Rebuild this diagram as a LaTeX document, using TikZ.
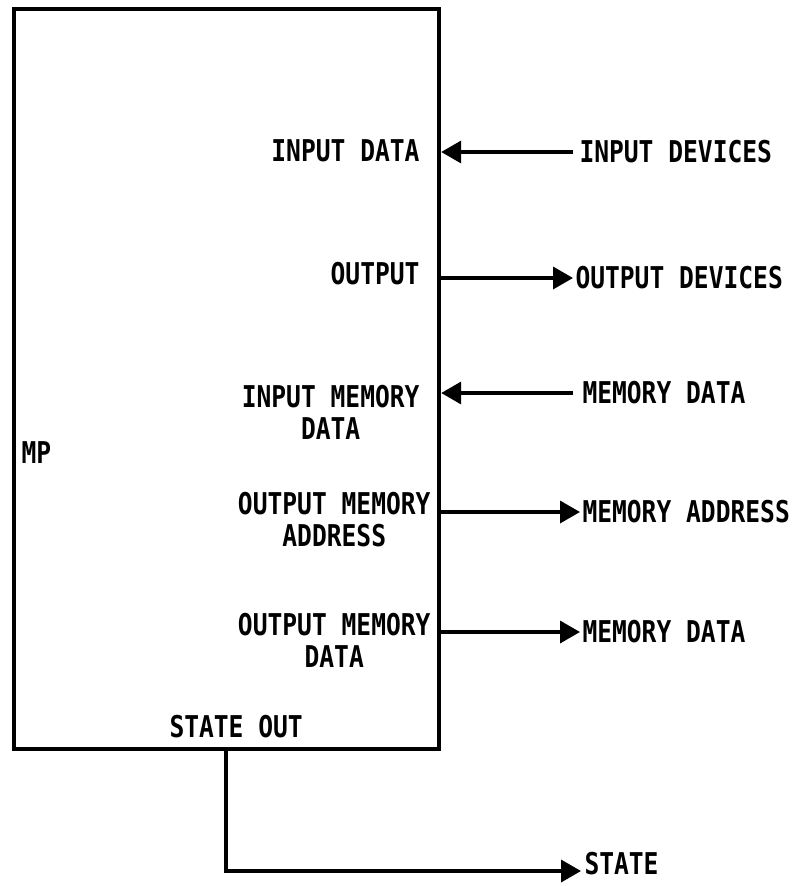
\documentclass[tikz,border=0pt]{standalone}
\usepackage{fontspec}
\setmainfont{DejaVu Sans Mono}[FakeStretch=0.82]
\usetikzlibrary{positioning, arrows.meta}

\begin{document}
\begin{tikzpicture}[x=1pt, y=-1pt, line width=3pt,
    lbl/.style={font=\fontsize{30}{32}\selectfont\bfseries, inner sep=0pt, align=center},
    sig/.style={-{Triangle[length=20pt, width=22pt]}, line width=3.6pt}]
  \useasboundingbox (0,0) rectangle (793,886);
  % the MP block
  \node[draw, line width=4.2pt, inner sep=0pt, minimum width=425pt,
    minimum height=740pt, anchor=north west] (mp) at (12,7) {};
  \node[lbl, anchor=west] (mpname) at (20,453) {MP};

  % port names inside the block
  \node[lbl, anchor=east] (indata) at (421,151) {INPUT DATA};
  \node[lbl, anchor=east] (outp) at (421,274) {OUTPUT};
  \node[lbl, anchor=north east] (inmem) at (421,384) {INPUT MEMORY\\DATA};
  \node[lbl, anchor=north east] (outaddr) at (432,491) {OUTPUT MEMORY\\ADDRESS};
  \node[lbl, anchor=north east] (outmem) at (432,612) {OUTPUT MEMORY\\DATA};
  \node[lbl, anchor=south west] (stout) at (168,739) {STATE OUT};

  % outside
  \node[lbl, anchor=west] (indev) at (578,152) {INPUT DEVICES};
  \node[lbl, anchor=west] (outdev) at (574,278) {OUTPUT DEVICES};
  \node[lbl, anchor=west] (memdata) at (581,393) {MEMORY DATA};
  \node[lbl, anchor=west] (memaddr) at (581,512) {MEMORY ADDRESS};
  \node[lbl, anchor=west] (memout) at (581,632) {MEMORY DATA};
  \node[lbl, anchor=west] (state) at (583,864) {STATE};

  \draw[sig] ([xshift=-5pt]indev.west) -- (mp.east |- indev.west);
  \draw[sig] (mp.east |- outdev.west) -- ([xshift=-1pt]outdev.west);
  \draw[sig] ([xshift=-8pt]memdata.west) -- (mp.east |- memdata.west);
  \draw[sig] (mp.east |- memaddr.west) -- ([xshift=-1pt]memaddr.west);
  \draw[sig] (mp.east |- memout.west) -- ([xshift=-1pt]memout.west);
  \coordinate (stsrc) at (226,747);
  \draw[sig] (stsrc) |- ([xshift=-2pt, yshift=-7pt]state.west);
\end{tikzpicture}
\end{document}
